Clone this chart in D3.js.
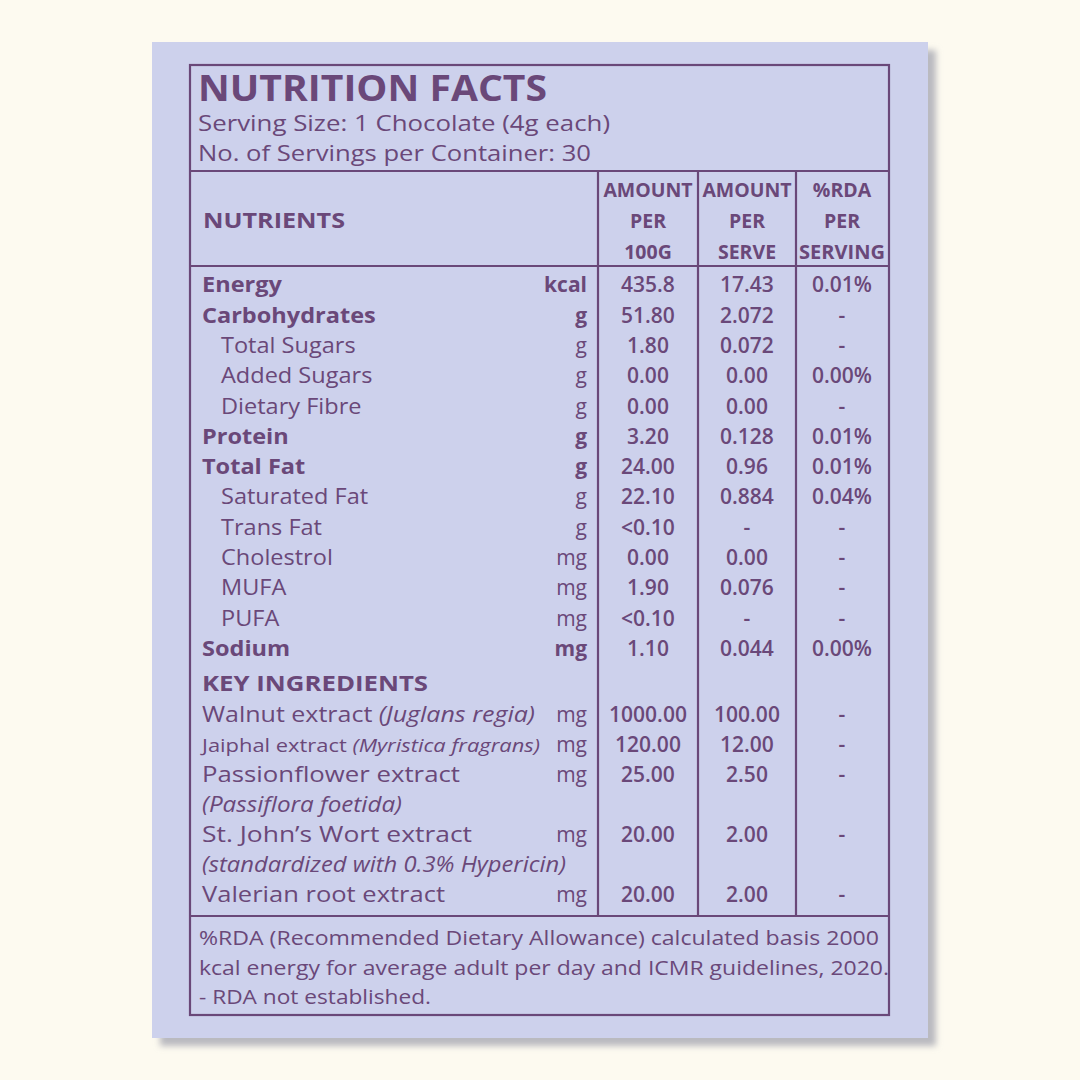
<!DOCTYPE html><html><head><meta charset="utf-8">
<script src="https://cdn.jsdelivr.net/npm/d3@7"></script>
<style>body{margin:0;background:#fdfaf0}svg{display:block}</style></head><body>
<script>
const headers=[["AMOUNT","PER","100G"],["AMOUNT","PER","SERVE"],["%RDA","PER","SERVING"]];
const nutrients=["Energy","Carbohydrates","Total Sugars","Added Sugars","Dietary Fibre","Protein","Total Fat","Saturated Fat","Trans Fat","Cholestrol","MUFA","PUFA","Sodium"];
const nutrientIndent=[0,0,1,1,1,0,0,1,1,1,1,1,0];
const nutrientUnits=["kcal","g","g","g","g","g","g","g","g","mg","mg","mg","mg"];
const per100=["435.8","51.80","1.80","0.00","0.00","3.20","24.00","22.10","<0.10","0.00","1.90","<0.10","1.10"];
const perServe=["17.43","2.072","0.072","0.00","0.00","0.128","0.96","0.884","-","0.00","0.076","-","0.044"];
const rda=["0.01%","-","-","0.00%","-","0.01%","0.01%","0.04%","-","-","-","-","0.00%"];
const ingredients=[["Walnut extract ","(Juglans regia)"],["Jaiphal extract ","(Myristica fragrans)"],["Passionflower extract",""],["","(Passiflora foetida)"],["St. John’s Wort extract",""],["","(standardized with 0.3% Hypericin)"],["Valerian root extract",""]];
const ingUnits=["mg","mg","mg","","mg","","mg"];
const ing100=["1000.00","120.00","25.00","","20.00","","20.00"];
const ingServe=["100.00","12.00","2.50","","2.00","","2.00"];
const ingRda=["-","-","-","","-","","-"];
const footer=["%RDA (Recommended Dietary Allowance) calculated basis 2000","kcal energy for average adult per day and ICMR guidelines, 2020.","- RDA not established."];

const C="#6a4879",F="'Open Sans',sans-serif";
const svg=d3.select("body").append("svg").attr("width",1080).attr("height",1080);
svg.append("defs").append("filter").attr("id","b").append("feGaussianBlur").attr("stdDeviation",3);
svg.append("rect").attr("x",160).attr("y",50).attr("width",776).attr("height",996).attr("fill","#b9b9bf").attr("filter","url(#b)");
svg.append("rect").attr("x",152).attr("y",42).attr("width",776).attr("height",996).attr("fill","#cdd1ec");
const g=svg.append("g").attr("fill",C).attr("font-family",F);
const line=(x1,y1,x2,y2)=>g.append("line").attr("x1",x1).attr("y1",y1).attr("x2",x2).attr("y2",y2).attr("stroke",C).attr("stroke-width",2.2);
g.append("rect").attr("x",190).attr("y",65).attr("width",699).attr("height",950).attr("fill","none").attr("stroke",C).attr("stroke-width",2.2);
line(190,171,889,171);line(190,266,889,266);line(190,916,889,916);
[598,698,796].forEach(x=>line(x,171,x,916));
const t=(x,y,s,o={})=>g.append("text").attr("x",x).attr("y",y).attr("dy","0.35em").attr("font-size",o.size||21).attr("font-weight",o.w||500).attr("text-anchor",o.a||"start").attr("font-style",o.i?"italic":null).text(s);
const fit=(sel,w)=>sel.attr("textLength",w).attr("lengthAdjust","spacingAndGlyphs");
fit(t(198,89,"NUTRITION FACTS",{size:35,w:700}),349);
fit(t(198,124,"Serving Size: 1 Chocolate (4g each)"),412);
fit(t(198,154,"No. of Servings per Container: 30"),393);
fit(t(203,221,"NUTRIENTS",{w:700}),142);
const colX=[648,747,842];
headers.forEach((h,i)=>h.forEach((s,j)=>{const e=t(colX[i],190+j*31,s,{a:"middle",w:700,size:19.5});if(s.length>6)fit(e,86);}));
const yN=d3.scaleLinear().domain([0,1]).range([285,315.3]);
nutrients.forEach((n,i)=>{const y=yN(i),b=!nutrientIndent[i];
 const e=t(nutrientIndent[i]?221:202,y,n,{w:b?700:500});
 e.attr("textLength",e.node().getComputedTextLength()*1.12).attr("lengthAdjust","spacingAndGlyphs");
 t(587,y,nutrientUnits[i],{a:"end",w:b?700:500});
 [per100[i],perServe[i],rda[i]].forEach((v,k)=>t(colX[k],y,v,{a:"middle",w:600}));});
fit(t(202,684,"KEY INGREDIENTS",{w:700}),226);
const yI=d3.scaleLinear().domain([0,1]).range([715,745]);
const ingW=[333,338,258,200,270,364,243];
ingredients.forEach((r,i)=>{const y=yI(i);
 const tx=t(202,y,"",{size:i==1?19:21});
 tx.append("tspan").text(r[0]);tx.append("tspan").attr("font-style","italic").text(r[1]);
 fit(tx,ingW[i]);
 t(587,y,ingUnits[i],{a:"end"});
 [ing100[i],ingServe[i],ingRda[i]].forEach((v,k)=>t(colX[k],y,v,{a:"middle",w:600}));});
footer.forEach((s,i)=>{const e=t(199,938+i*29.5,s,{size:20.5});fit(e,[680,690,232][i]);});
</script></body></html>
